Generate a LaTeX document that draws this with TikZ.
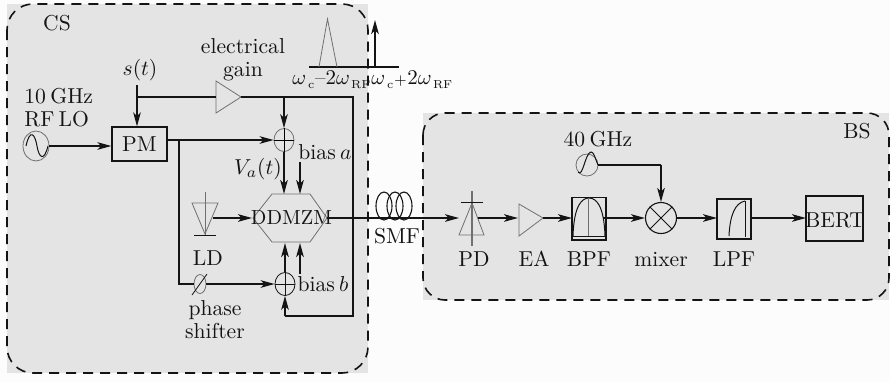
\RequirePackage{fix-cm}
\documentclass[tikz,border=0pt]{standalone}
\usetikzlibrary{arrows.meta,shapes.geometric,calc}
\definecolor{panel}{HTML}{E4E4E4}
\definecolor{ink}{HTML}{141414}
\definecolor{thin}{HTML}{707070}
\newcommand\lblfont{\fontsize{10.8}{12}\selectfont\setlength{\spaceskip}{0.2em}}
\newcommand\specfont{\fontsize{10.5}{12}\selectfont}
\newcommand\mzmfont{\fontsize{10.2}{12}\selectfont}
\newcommand\subtxt[1]{\raisebox{-2pt}{\fontsize{5.8}{6}\selectfont #1}}
\tikzset{
  lbl/.style={inner sep=0pt,text=ink,font=\lblfont,align=center},
  speclbl/.style={lbl,font=\specfont},
  conn/.style={draw=ink,line width=0.65pt},
  arr/.style={conn,-{Stealth[length=7pt,width=3.8pt,inset=1.8pt]}},
  boxn/.style={draw=ink,line width=0.65pt,inner sep=0pt,rectangle},
  circn/.style={draw=#1,line width=0.4pt,ellipse,inner sep=0pt},
  thinl/.style={draw=thin,line width=0.4pt},
  bound/.style={draw=ink,line width=0.8pt,rounded corners=#1,dash pattern=on 5pt off 3.5pt},
}
\begin{document}
\begin{tikzpicture}[x=0.5pt,y=-0.5pt]
\useasboundingbox (0,0) rectangle (890,382);
\fill[white!99!black] (0,0) rectangle (890,382);
% panels
\fill[panel] (7,4) rectangle (368,373);
\fill[panel] (423,113) rectangle (889,300);
\draw[bound=13pt] (7,4) rectangle (368,373);
\draw[bound=11pt] (423,113) rectangle (889,300);
\node[lbl] (cs) at (57,23) {CS};
\node[lbl] (bs) at (857,131) {BS};
% sources and boxes
\node[circn=thin,minimum width=13pt,minimum height=15pt] (lo) at (36,146) {};
\draw[ink,line width=0.5pt] (26,146) .. controls (30,128) and (35,134) .. (37,146) .. controls (39,158) and (44,162) .. (48,146);
\node[lbl,align=left,anchor=west] (lolbl) at (24,108) {10 GHz\\[-0.5pt]RF LO};
\node[boxn,minimum width=27.5pt,minimum height=17pt,lbl,draw=ink] (pm) at (139.5,144) {PM};
\node[lbl] (st) at (140,70) {$s(t)$};
\coordinate (stend) at (137,85);
\coordinate (stj) at (137,97);
\coordinate (ampin) at (216,97);
\coordinate (ampout) at (241,97);
\draw[thinl,fill=panel] (216,81) -- (241,97) -- (216,113) -- cycle;
\node[lbl] (gainlbl) at (243,59.5) {electrical\\[-0.5pt]gain};
% adders
\node[circn=thin,minimum width=10pt,minimum height=11.5pt] (adda) at (284,140) {};
\draw[thin,line width=0.4pt] (adda.north)--(adda.south) (adda.west)--(adda.east);
\node[circn=ink,minimum width=10pt,minimum height=11.5pt] (addb) at (285,284) {};
\draw[ink,line width=0.4pt] (addb.north)--(addb.south) (addb.west)--(addb.east);
% hexagon
\draw[thinl] (253,218) -- (272,194) -- (310,194) -- (327,218) -- (310,242) -- (272,242) -- cycle;
\node[lbl,font=\mzmfont] (mzm) at (291.5,218) {DDMZM};
\coordinate (mzmw) at (252,218);
\coordinate (mzme) at (327,218);
\coordinate (mzmna) at (284,194);
\coordinate (mzmnb) at (300,194);
\coordinate (mzmsa) at (285,243);
\coordinate (mzmsb) at (300,243);
% bias
\node[lbl] (biasa) at (325,152) {bias $a$};
\node[lbl] (biasb) at (323,284) {bias $b$};
\node[lbl] (va) at (258,169) {$V_a(t)$};
\coordinate (biasasrc) at (300,162);
\coordinate (biasbsrc) at (300,274);
% LD
\draw[thinl] (192,203) -- (218,203) -- (205,234) -- cycle;
\draw[thinl] (205,192) -- (205,236);
\draw[ink,line width=0.5pt] (194,235) -- (216,235);
\coordinate (ldout) at (213,218);
\node[lbl] (ld) at (208,258) {LD};
% phase shifter
\node[circn=thin,minimum width=6pt,minimum height=9.5pt] (ps) at (200,284) {};
\draw[ink,line width=0.4pt] (192,295) -- (207,274);
\node[lbl] (pslbl) at (215,320) {phase\\[-0.5pt]shifter};
% spectrum
\draw[ink,line width=0.75pt] (309,67) -- (399,67);
\draw[thinl] (319,67) -- (327.5,19) -- (337,67);
\coordinate (specb) at (375,67);
\coordinate (spect) at (375,20);
\node[speclbl,anchor=base west] (w1) at (292,84) {$\omega$\kern1pt\subtxt{c}\kern0.3pt--2$\omega$\kern0.6pt\subtxt{RF}};
\node[speclbl,anchor=base west] (w2) at (371,84) {$\omega$\kern1pt\subtxt{c}\kern0.3pt{\fontsize{6.8}{8}\selectfont$+$}\kern0.3pt2$\omega$\kern0.6pt\subtxt{RF}};
% SMF
\foreach \cx in {384,395,404}
  \draw[ink,line width=0.55pt] (\cx,206) ellipse[x radius=4pt,y radius=7pt];
\node[lbl] (smf) at (397,236) {SMF};
% PD
\draw[thinl] (459,235) -- (472,203) -- (484,235) -- cycle;
\draw[draw=thin,line width=0.6pt] (472,191) -- (472,246);
\draw[ink,line width=0.5pt] (461,202) -- (483,202);
\coordinate (pdin) at (459,218);
\coordinate (pdout) at (478,218);
\node[lbl] (pd) at (474,259) {PD};
% EA
\draw[thinl] (519,204) -- (543,218) -- (519,236) -- cycle;
\coordinate (eain) at (518,218);
\coordinate (eaout) at (543,218);
\node[lbl] (ea) at (534,259) {EA};
% BPF
\node[boxn,minimum width=17pt,minimum height=21.25pt] (bpf) at (589,218.75) {};
\draw[ink,line width=0.5pt] (572,236) -- (606,236);
\draw[ink,line width=0.5pt] (573,236) .. controls (574,205) and (582,198) .. (589,198) .. controls (596,198) and (604,205) .. (605,236);
\draw[draw=thin,line width=0.5pt] (588,198) -- (588,236);
\coordinate (bpfin) at (572,218);
\coordinate (bpfout) at (603,218);
\node[lbl] (bpflbl) at (589,259) {BPF};
% 40 GHz
\node[lbl] (g40) at (598,139) {40 GHz};
\node[circn=thin,minimum width=11pt,minimum height=11pt] (osc) at (587,165) {};
\draw[ink,line width=0.5pt] (578,172) .. controls (583,178) and (585,153) .. (591,152) .. controls (594,152) and (595,158) .. (598,165);
\coordinate (oscturn) at (661,165);
% mixer
\node[circle,draw=ink,line width=0.55pt,minimum size=15.5pt,inner sep=0pt] (mix) at (661,218) {};
\draw[ink,line width=0.5pt] (mix.45)--(mix.225) (mix.135)--(mix.315);
\node[lbl] (mixlbl) at (661,260) {mixer};
% LPF
\node[boxn,minimum width=17pt,minimum height=20pt] (lpf) at (734,219) {};
\draw[ink,line width=0.5pt] (729,236) .. controls (730,215) and (735,203) .. (745,201);
\draw[ink,line width=0.5pt] (745,201) -- (745,237);
\coordinate (lpfin) at (717,218);
\coordinate (lpfout) at (751,218);
\node[lbl] (lpflbl) at (734,259) {LPF};
% BERT
\node[boxn,minimum width=28.5pt,minimum height=22.5pt] (bert) at (834.5,218.5) {};
\node[lbl] (berttxt) at (835,220) {BERT};
\coordinate (bertin) at (806,218);
% connectors
\draw[arr] (lo.east) -- (pm.west |- lo.east);
\draw[arr] (stend) -- (pm.north -| stend);
\draw[conn] (stj) -- (ampin);
\coordinate (pmr) at (167,140);
\coordinate (pmj) at (179,140);
\coordinate (psl) at (179,284);
\draw[arr] (pmr) -- (adda.west);
\draw[conn] (pmj) -- (psl) -- (ps.west);
\draw[arr] (ps.east) -- (addb.west);
\coordinate (fbr) at (353,97);
\coordinate (fbb) at (353,316);
\coordinate (fbl) at (285,316);
\coordinate (aj) at (284,97);
\draw[conn] (ampout) -- (fbr) -- (fbb) -- (fbl);
\draw[arr] (fbl) -- (addb.south);
\draw[arr] (aj) -- (adda.north);
\draw[arr] (adda.south) -- (mzmna);
\draw[arr] (biasasrc) -- (mzmnb);
\draw[arr] (addb.north) -- (mzmsa);
\draw[arr] (biasbsrc) -- (mzmsb);
\draw[arr] (ldout) -- (mzmw);
\draw[arr] (mzme) -- (pdin);
\draw[arr] (pdout) -- (eain);
\draw[arr] (eaout) -- (bpfin);
\draw[arr] (bpfout) -- (mix.west);
\draw[conn] (osc.east) -- (oscturn);
\draw[arr] (oscturn) -- (mix.north);
\draw[arr] (mix.east) -- (lpfin);
\draw[arr] (lpfout) -- (bertin);
\draw[arr,line width=0.75pt] (specb) -- (spect);
\end{tikzpicture}
\end{document}
